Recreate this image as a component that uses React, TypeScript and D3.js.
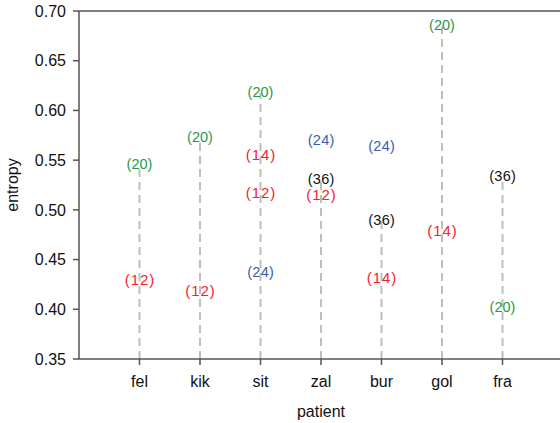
import React from "react";
import * as d3 from "d3";

// Patients along the x axis
const patients = ["fel", "kik", "sit", "zal", "bur", "gol", "fra"];

// Entropy per patient and window size (the number shown in parentheses)
const win12 = [
  { patient: "fel", value: 0.428 },
  { patient: "kik", value: 0.4173 },
  { patient: "sit", value: 0.5154 },
  { patient: "zal", value: 0.5134 },
];
const win14 = [
  { patient: "sit", value: 0.5541 },
  { patient: "bur", value: 0.4307 },
  { patient: "gol", value: 0.4776 },
];
const win20 = [
  { patient: "fel", value: 0.5444 },
  { patient: "kik", value: 0.5722 },
  { patient: "sit", value: 0.6176 },
  { patient: "gol", value: 0.6845 },
  { patient: "fra", value: 0.4011 },
];
const win24 = [
  { patient: "sit", value: 0.436 },
  { patient: "zal", value: 0.5692 },
  { patient: "bur", value: 0.5633 },
];
const win36 = [
  { patient: "zal", value: 0.5297 },
  { patient: "bur", value: 0.4885 },
  { patient: "fra", value: 0.5329 },
];

const yTicks = [0.35, 0.4, 0.45, 0.5, 0.55, 0.6, 0.65, 0.7];

const series = [
  { label: "(12)", color: "#f5222d", points: win12, stem: true, size: 15, spacing: 0.9 },
  { label: "(14)", color: "#f5222d", points: win14, stem: true, size: 15, spacing: 0.9 },
  { label: "(20)", color: "#1f9a4a", points: win20, stem: true, size: 14.5, spacing: 0 },
  { label: "(24)", color: "#3c5dae", points: win24, stem: false, size: 14.5, spacing: 0.3 },
  { label: "(36)", color: "#111111", points: win36, stem: true, size: 14.5, spacing: 0.3 },
];

const W = 560;
const H = 423;
const FONT = "'Liberation Sans', Arial, Helvetica, sans-serif";

export default function App() {
  const left = 79;
  const right = 563;
  const top = 11;
  const bottom = 359;

  const x = d3.scaleLinear().domain([0, patients.length + 1]).range([left, right]);
  const y = d3.scaleLinear().domain([0.35, 0.7]).range([bottom, top]);
  const xPos = (p: string) => x(patients.indexOf(p) + 1);

  // Dashed stems reach up to the highest stemmed value of each patient
  const stemTop = new Map<string, number>();
  series
    .filter((s) => s.stem)
    .forEach((s) =>
      s.points.forEach((pt) => {
        const cur = stemTop.get(pt.patient);
        if (cur === undefined || pt.value > cur) stemTop.set(pt.patient, pt.value);
      })
    );

  const axisColor = "#555555";

  return (
    <svg
      width={W}
      height={H}
      style={{ position: "absolute", left: 0, top: 0, background: "#fff" }}
      fontFamily={FONT}
    >
      {/* stems */}
      {patients.map((p) => {
        const v = stemTop.get(p);
        if (v === undefined) return null;
        return (
          <line
            key={"stem-" + p}
            x1={xPos(p)}
            x2={xPos(p)}
            y1={y(0.35)}
            y2={y(v)}
            stroke="#c0bfb3"
            strokeWidth={2}
            strokeDasharray="8,5"
          />
        );
      })}

      {/* frame */}
      <line x1={left} x2={W} y1={top} y2={top} stroke={axisColor} strokeWidth={1.5} />
      <line x1={left} x2={W} y1={bottom} y2={bottom} stroke={axisColor} strokeWidth={1.5} />
      <line x1={left} x2={left} y1={top} y2={bottom} stroke={axisColor} strokeWidth={1.5} />

      {/* y axis ticks */}
      {yTicks.map((t) => (
        <g key={"yt-" + t}>
          <line x1={left - 6} x2={left} y1={y(t)} y2={y(t)} stroke={axisColor} strokeWidth={1.5} />
          <text
            x={left - 13}
            y={y(t)}
            dy="0.36em"
            textAnchor="end"
            fontSize={16}
            fill="#111"
          >
            {t.toFixed(2)}
          </text>
        </g>
      ))}

      {/* x axis ticks */}
      {patients.map((p) => (
        <g key={"xt-" + p}>
          <line x1={xPos(p)} x2={xPos(p)} y1={bottom} y2={bottom + 6} stroke={axisColor} strokeWidth={1.5} />
          <text x={xPos(p)} y={bottom + 28} textAnchor="middle" fontSize={16} fill="#111">
            {p}
          </text>
        </g>
      ))}

      {/* value labels */}
      {series.map((s) =>
        s.points.map((pt) => (
          <text
            key={s.label + pt.patient}
            x={xPos(pt.patient) + s.spacing / 2}
            y={y(pt.value)}
            dy="0.26em"
            textAnchor="middle"
            fontSize={s.size}
            letterSpacing={s.spacing}
            fill={s.color}
          >
            {s.label}
          </text>
        ))
      )}

      {/* axis titles */}
      <text x={321} y={417} textAnchor="middle" fontSize={16} fill="#111">
        patient
      </text>
      <text
        transform={`translate(18, ${(top + bottom) / 2}) rotate(-90)`}
        textAnchor="middle"
        fontSize={16}
        fill="#111"
      >
        entropy
      </text>
    </svg>
  );
}
